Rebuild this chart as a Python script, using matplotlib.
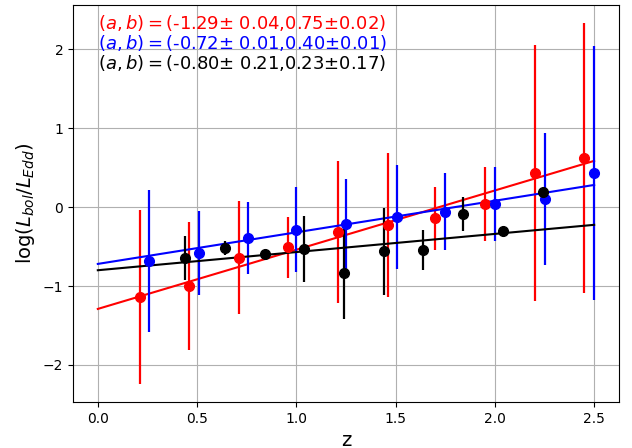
import numpy as np
import matplotlib
matplotlib.use("Agg")
import matplotlib.pyplot as plt

# red sample
z_red = [0.21, 0.46, 0.71, 0.96, 1.21, 1.46, 1.70, 1.95, 2.20, 2.45]
y_red = [-1.14, -1.00, -0.64, -0.51, -0.32, -0.23, -0.14, 0.04, 0.43, 0.62]
e_red = [1.10, 0.81, 0.72, 0.39, 0.90, 0.91, 0.40, 0.47, 1.62, 1.71]

# blue sample
z_blue = [0.26, 0.51, 0.755, 1.00, 1.25, 1.505, 1.75, 2.00, 2.25, 2.50]
y_blue = [-0.68, -0.58, -0.39, -0.285, -0.22, -0.13, -0.06, 0.04, 0.10, 0.43]
e_blue = [0.90, 0.53, 0.46, 0.54, 0.57, 0.66, 0.49, 0.47, 0.84, 1.61]

# black sample
z_blk = [0.44, 0.64, 0.84, 1.04, 1.24, 1.44, 1.64, 1.84, 2.04, 2.24]
y_blk = [-0.65, -0.52, -0.59, -0.53, -0.84, -0.56, -0.54, -0.09, -0.30, 0.19]
e_blk = [0.28, 0.09, 0.02, 0.42, 0.58, 0.55, 0.255, 0.215, 0.02, 0.04]

# fit parameters (a, b)
fit_red = (-1.29, 0.75)
fit_blue = (-0.72, 0.40)
fit_blk = (-0.80, 0.23)

fig, ax = plt.subplots(figsize=(6.32, 4.48), dpi=100)
fig.subplots_adjust(left=0.1155, right=0.9794, top=0.9888, bottom=0.1027)

zz = np.linspace(0, 2.5, 50)
for z, y, e, (a, b), c in [(z_red, y_red, e_red, fit_red, 'red'),
                           (z_blue, y_blue, e_blue, fit_blue, 'blue'),
                           (z_blk, y_blk, e_blk, fit_blk, 'black')]:
    ax.errorbar(z, y, yerr=e, fmt='o', color=c, markersize=7, lw=1.6)
    ax.plot(zz, a + b * zz, color=c, lw=1.5)

ax.text(0, 2.25, r'$(a,b)=$(-1.29± 0.04,0.75±0.02)', color='red', fontsize=13)
ax.text(0, 2.0, r'$(a,b)=$(-0.72± 0.01,0.40±0.01)', color='blue', fontsize=13)
ax.text(0, 1.75, r'$(a,b)=$(-0.80± 0.21,0.23±0.17)', color='black', fontsize=13)

ax.grid(True)
ax.set_xlabel('z', fontsize=14)
ax.set_ylabel(r'log($L_{bol}/L_{Edd}$)', fontsize=14)

plt.savefig('out.png')
